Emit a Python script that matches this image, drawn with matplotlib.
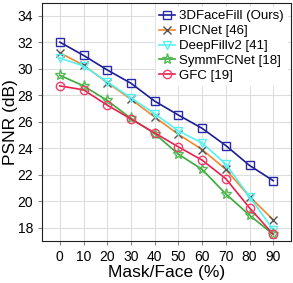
import matplotlib
matplotlib.use("Agg")
import matplotlib.pyplot as plt

plt.rcParams['font.family'] = ['Liberation Sans', 'DejaVu Sans']

mask = [0, 10, 20, 30, 40, 50, 60, 70, 80, 90]
facefill = [32.0, 31.0, 29.9, 28.9, 27.55, 26.5, 25.5, 24.2, 22.7, 21.55]
picnet = [31.2, 30.25, 28.95, 27.7, 26.35, 25.05, 23.9, 22.4, 20.35, 18.6]
deepfill = [30.8, 30.2, 29.0, 27.8, 26.6, 25.3, 24.4, 22.8, 20.35, 17.85]
symmfc = [29.5, 28.7, 27.6, 26.25, 25.1, 23.55, 22.4, 20.55, 18.95, 17.5]
gfc = [28.7, 28.4, 27.25, 26.2, 25.15, 24.1, 23.1, 21.7, 19.5, 17.5]
yticks = [18, 20, 22, 24, 26, 28, 30, 32, 34]

fig = plt.figure(figsize=(2.93, 2.83), dpi=100)
ax = fig.add_axes([42/293, 42/283, 249/293, 238/283])

ax.plot(mask, facefill, color="#1c1c96", marker="s", mfc="none", mec="#2a2aa8", ms=6, lw=1.2, label="3DFaceFill (Ours)")
ax.plot(mask, picnet, color="#f5862a", marker="x", mec="#555555", ms=6, lw=1.2, label="PICNet [46]")
ax.plot(mask, deepfill, color="#55f2f2", marker="v", mfc="none", mec="#55f2f2", ms=6, lw=1.2, label="DeepFillv2 [41]")
ax.plot(mask, symmfc, color="#3aaa3a", marker="*", mfc="none", mec="#55bb55", ms=8, lw=1.2, label="SymmFCNet [18]")
ax.plot(mask, gfc, color="#e8204f", marker="o", mfc="none", mec="#f0406a", ms=6, lw=1.2, label="GFC [19]")

ax.set_xlim(-7.5, 97.5)
ax.set_ylim(17.0, 34.95)
ax.set_xticks(mask)
ax.set_yticks(yticks)
ax.tick_params(labelsize=10, length=3, color="#888888")
ax.grid(True, color="#dddddd", lw=0.8)
ax.set_axisbelow(True)
for s in ax.spines.values():
    s.set_color("#222222")
ax.set_xlabel("Mask/Face (%)", fontsize=12.5, labelpad=1)
ax.set_ylabel("PSNR (dB)", fontsize=12.5)
ax.yaxis.set_label_coords(-0.095, 0.5)
leg = ax.legend(loc="upper right", fontsize=9.5, frameon=True, fancybox=False,
                edgecolor="white", framealpha=1, handlelength=1.2, borderpad=0.25,
                labelspacing=0.2, handletextpad=0.3, borderaxespad=0.3)
fig.savefig("out.png", dpi=100)
